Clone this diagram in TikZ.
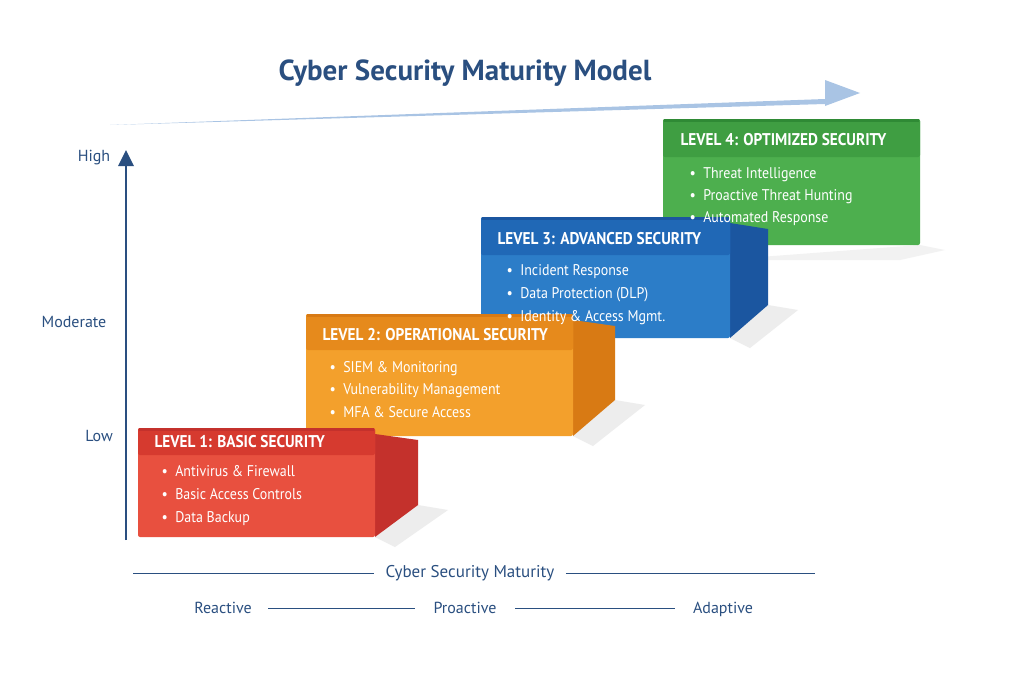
\documentclass[tikz,border=0pt]{standalone}
\usepackage{fontspec}
\setmainfont{PT Sans}
\newfontfamily\condf[FakeStretch=0.9]{PT Sans}
\usetikzlibrary{calc}
\definecolor{navy}{HTML}{2A4F80}
\definecolor{arrowblue}{HTML}{A9C4E4}
\definecolor{gF}{HTML}{4DAF4E}\definecolor{gH}{HTML}{3F9E42}\definecolor{gS}{HTML}{2F8A35}
\definecolor{bF}{HTML}{2C7DC8}\definecolor{bH}{HTML}{2068B6}\definecolor{bS}{HTML}{1B56A0}
\definecolor{oF}{HTML}{F3A02C}\definecolor{oH}{HTML}{E68A1C}\definecolor{oS}{HTML}{D87A14}
\definecolor{rF}{HTML}{E8503F}\definecolor{rH}{HTML}{D63A2F}\definecolor{rS}{HTML}{C4312C}
\tikzset{
  hdr/.style={anchor=base west,text=white,font=\condf\bfseries\fontsize{17}{19}\selectfont},
  item/.style={anchor=base west,text=white,font=\condf\fontsize{15.5}{17}\selectfont},
  axlab/.style={text=navy,font=\fontsize{16}{18}\selectfont},
  axline/.style={draw=navy,line width=1pt},
}
\newcommand{\myside}[7]{%
  \fill[black!7] (#3,#4) -- (#6,#7) -- (#6+30,#7+5) -- (#3+20,#4+10) -- cycle;
  \fill[#5] (#3,#2+6) -- (#6,#2+12) -- (#6,#7) -- (#3,#4) -- cycle;
}
\newcommand{\myfront}[6]{%
  \fill[#5F,rounded corners=2pt] (#1,#2) rectangle (#3,#4);
  \fill[#5H,rounded corners=2pt] (#1,#2) rectangle (#3,#6);
  \fill[#5S] (#1+1,#2) rectangle (#3-1,#2+3);
}
\begin{document}
\begin{tikzpicture}[x=1pt,y=-1pt]
\useasboundingbox (0,0) rectangle (1024,683);
\fill[white] (0,0) rectangle (1024,683);
\fill[arrowblue] (110,125) -- (825,99) -- (825,80) -- (860,93) -- (825,106) -- (825,104) -- cycle;
\node[text=navy,font=\bfseries\fontsize{29}{32}\selectfont] (title) at (465,73) {Cyber Security Maturity Model};
\coordinate (ybot) at (126,540);
\coordinate (ytop) at (126,150);
\draw[navy,line width=2.2pt] (ybot) -- (126,165);
\fill[navy] (ytop) -- (134,166) -- (118,166) -- cycle;
\node[axlab] (high) at (94,158) {High};
\node[axlab] (mod) at (74,322) {Moderate};
\node[axlab] (low) at (99,436) {Low};
\fill[black!5] (920,245) -- (945,250) -- (900,260) -- (720,260) -- cycle;
\myfront{663}{119}{920}{245}{g}{157}
\myside{481}{217}{730}{338}{bS}{768}{305}
\myfront{481}{217}{730}{338}{b}{255}
\myside{306}{314}{573}{436}{oS}{615}{400}
\myfront{306}{314}{573}{436}{o}{350}
\myside{138}{428}{375}{537}{rS}{418}{505}
\myfront{138}{428}{375}{537}{r}{455}
\node[hdr] (h4) at (677,145) {LEVEL 4: OPTIMIZED SECURITY};
\node[item] (i41) at (686,178) {\textbullet\ \ Threat Intelligence};
\node[item] (i42) at (686,200) {\textbullet\ \ Proactive Threat Hunting};
\node[item] (i43) at (686,222) {\textbullet\ \ Automated Response};
\node[hdr] (h3) at (494,244) {LEVEL 3: ADVANCED SECURITY};
\node[item] (i31) at (503,275) {\textbullet\ \ Incident Response};
\node[item] (i32) at (503,298) {\textbullet\ \ Data Protection (DLP)};
\node[item] (i33) at (503,321) {\textbullet\ \ Identity \& Access Mgmt.};
\node[hdr] (h2) at (319,340) {LEVEL 2: OPERATIONAL SECURITY};
\node[item] (i21) at (326,372) {\textbullet\ \ SIEM \& Monitoring};
\node[item] (i22) at (326,394) {\textbullet\ \ Vulnerability Management};
\node[item] (i23) at (326,417) {\textbullet\ \ MFA \& Secure Access};
\node[hdr] (h1) at (151,447) {LEVEL 1: BASIC SECURITY};
\node[item] (i11) at (158,476) {\textbullet\ \ Antivirus \& Firewall};
\node[item] (i12) at (158,499) {\textbullet\ \ Basic Access Controls};
\node[item] (i13) at (158,522) {\textbullet\ \ Data Backup};
\node[axlab,font=\fontsize{17}{19}\selectfont] (csm) at (470,573) {Cyber Security Maturity};
\coordinate (l1) at (133,573); \coordinate (r1) at (815,573);
\draw[axline] (l1) -- ($(csm.west)+(-8,0)$);
\draw[axline] ($(csm.east)+(8,0)$) -- (r1);
\node[axlab,text depth=0pt] (react) at (223,608) {Reactive};
\node[axlab,text depth=0pt] (proact) at (465,608) {Proactive};
\node[axlab,text depth=0pt] (adapt) at (723,608) {Adaptive};
\coordinate (m1) at (268,608); \coordinate (m2) at (415,608);
\coordinate (m3) at (515,608); \coordinate (m4) at (675,608);
\draw[axline] (m1) -- (m2);
\draw[axline] (m3) -- (m4);
\end{tikzpicture}
\end{document}
